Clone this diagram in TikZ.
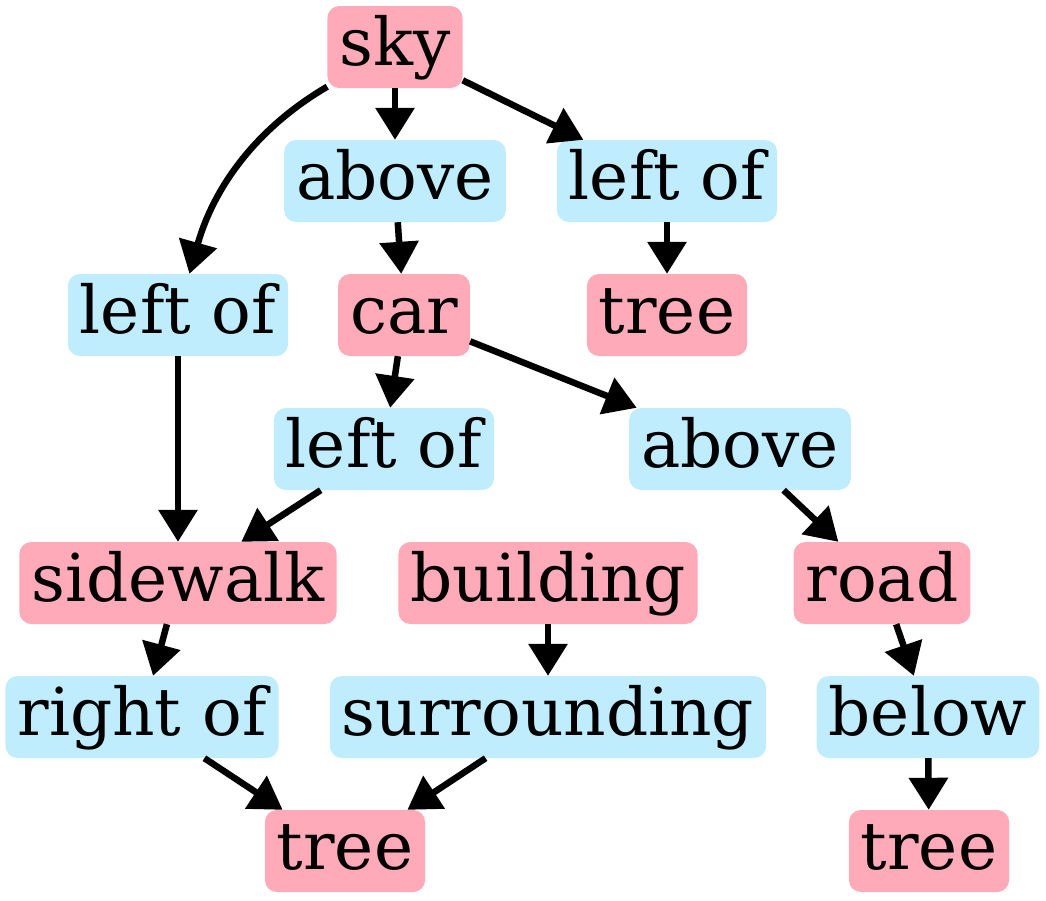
\documentclass[tikz,border=0pt]{standalone}
\usepackage{fontspec}
\setmainfont{DejaVu Serif}
\usetikzlibrary{arrows.meta}
\definecolor{objpink}{RGB}{255,170,184}
\definecolor{relblue}{RGB}{192,237,254}
\begin{document}
\begin{tikzpicture}
            [x=1pt,y=-1pt,
             Obj/.style={fill=objpink,rounded corners=12pt,minimum height=82pt,inner xsep=12pt,
                         text height=50pt,text depth=14pt,font=\fontsize{66}{79}\selectfont},
             Rel/.style={Obj,fill=relblue},
             Edge/.style={line width=6.5pt,-{Triangle[length=32pt,width=38pt]}}];
            \useasboundingbox (0,0) rectangle (1046,900);

            \node[Obj] (sky) at (395,47) {sky};
            \node[Rel] (aboveA) at (395,181) {above};
            \node[Rel] (leftofA) at (667,181) {left of};
            \node[Rel] (leftofB) at (178,315) {left of};
            \node[Obj] (car) at (404,315) {car};
            \node[Obj] (treeA) at (667,315) {tree};
            \node[Rel] (leftofC) at (384,449) {left of};
            \node[Rel] (aboveB) at (740,449) {above};
            \node[Obj] (sidewalk) at (178,583) {sidewalk};
            \node[Obj] (building) at (548,583) {building};
            \node[Obj] (road) at (882,583) {road};
            \node[Rel] (rightof) at (142,717) {right of};
            \node[Rel] (surrounding) at (548,717) {surrounding};
            \node[Rel] (below) at (928,717) {below};
            \node[Obj] (treeB) at (345,851) {tree};
            \node[Obj] (treeC) at (929,851) {tree};

            \draw[Edge] (sky) -- (aboveA);
            \draw[Edge] (sky) -- (leftofA);
            \draw[Edge] (sky) .. controls (245,135) and (210,200) .. (leftofB);
            \draw[Edge] (aboveA) -- (car);
            \draw[Edge] (leftofA) -- (treeA);
            \draw[Edge] (leftofB) -- (sidewalk);
            \draw[Edge] (car) -- (leftofC);
            \draw[Edge] (car) -- (aboveB);
            \draw[Edge] (leftofC) -- (sidewalk);
            \draw[Edge] (aboveB) -- (road);
            \draw[Edge] (sidewalk) -- (rightof);
            \draw[Edge] (building) -- (surrounding);
            \draw[Edge] (road) -- (below);
            \draw[Edge] (rightof) -- (treeB);
            \draw[Edge] (surrounding) -- (treeB);
            \draw[Edge] (below) -- (treeC);
        \end{tikzpicture}
\end{document}
